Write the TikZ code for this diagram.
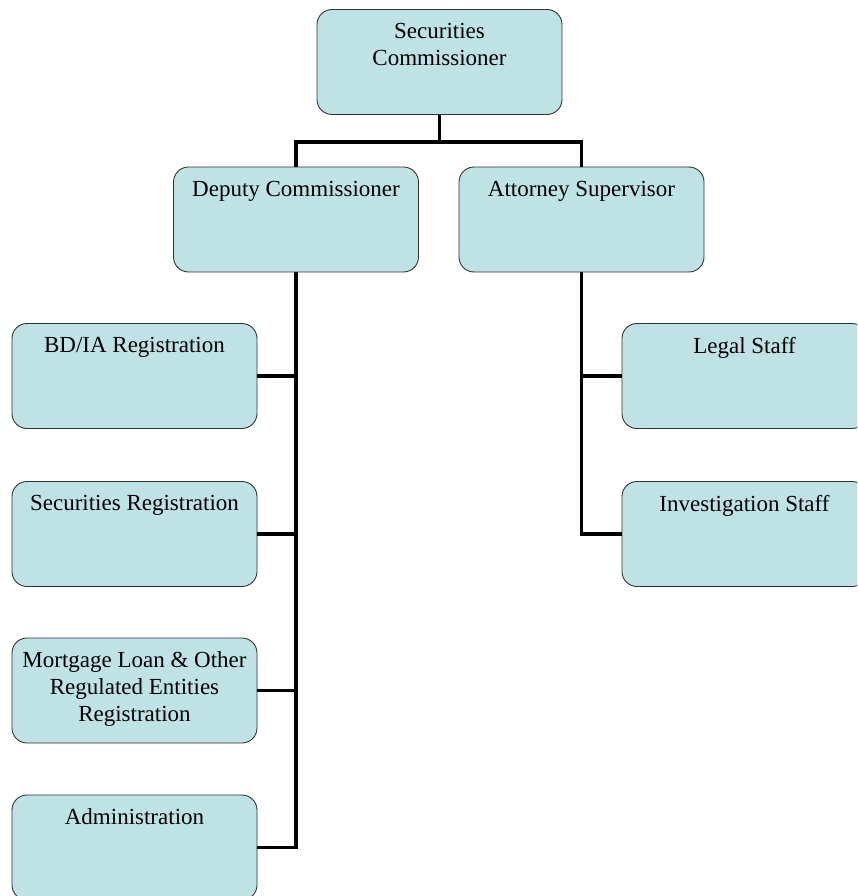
\documentclass[tikz,border=0pt]{standalone}
\usepackage{fontspec}
\setmainfont{Liberation Serif}
\definecolor{unitfill}{RGB}{191,227,229}
\definecolor{unitline}{RGB}{50,50,50}
\newcommand{\unittext}[1]{\parbox[t][85pt][t]{235pt}{\centering\vspace*{4pt}#1}}
\tikzset{
	unit/.style={draw=unitline, fill=unitfill, rounded corners=15pt, line width=0.9pt,
		inner xsep=5pt, inner ysep=10pt, minimum width=245pt, minimum height=105pt,
		font=\fontsize{23}{27}\selectfont},
	link/.style={line width=3.8pt, black}
}
\begin{document}
\begin{tikzpicture}[x=1pt, y=1pt]
		\clip (0,0) rectangle (857,-896);
		\fill[white] (0,0) rectangle (857,-896);

		\node[unit] (comm) at (439.5,-62) {\unittext{Securities\\Commissioner}};
		\node[unit] (dep) at (296,-219.5) {\unittext{Deputy Commissioner}};
		\node[unit] (att) at (581.5,-219.5) {\unittext{Attorney Supervisor}};

		\node[unit] (bdia) at (134.5,-376) {\unittext{BD/IA Registration}};
		\node[unit] (secreg) at (134.5,-534) {\unittext{Securities Registration}};
		\node[unit] (mortg) at (134.5,-690.5) {\unittext{Mortgage Loan \& Other\\Regulated Entities\\Registration}};
		\node[unit] (admin) at (134.5,-847.5) {\unittext{Administration}};

		\node[unit] (legal) at (744.5,-376) {\unittext{Legal Staff}};
		\node[unit] (invest) at (744.5,-534) {\unittext{Investigation Staff}};

		\draw[link] (comm.south) -- ++(0,-27) -| (dep.north);
		\draw[link] (comm.south) -- ++(0,-27) -| (att.north);

		\draw[link] (dep.south) |- (bdia.east);
		\draw[link] (dep.south) |- (secreg.east);
		\draw[link] (dep.south) |- (mortg.east);
		\draw[link] (dep.south) |- (admin.east);

		\draw[link] (att.south) |- (legal.west);
		\draw[link] (att.south) |- (invest.west);
	\end{tikzpicture}
\end{document}
